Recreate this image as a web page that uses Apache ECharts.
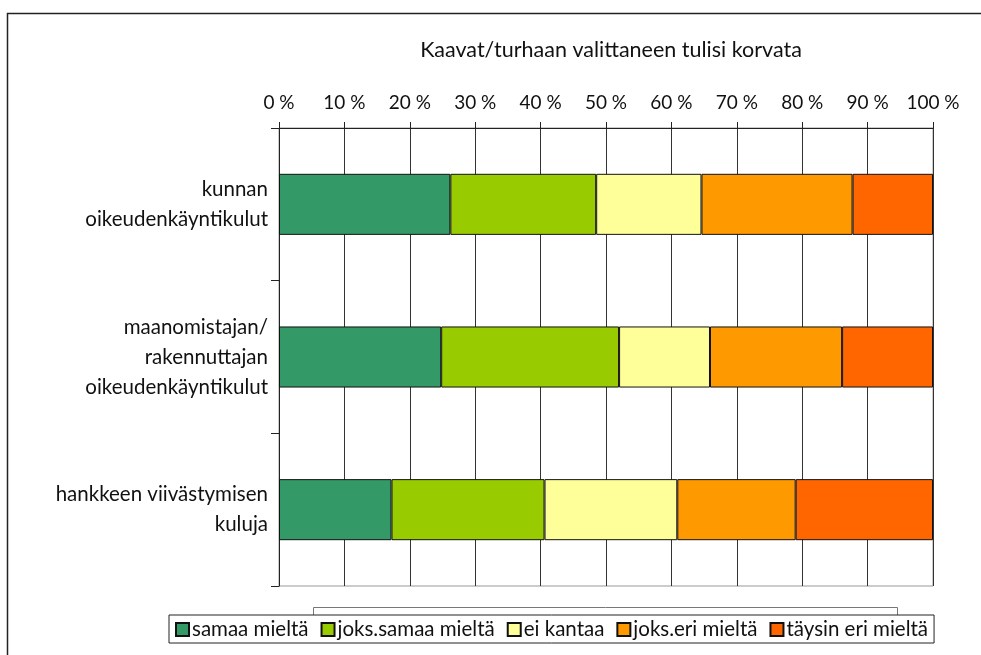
<!DOCTYPE html>
<html lang="fi">
<head>
  <meta charset="utf-8" />
  <title>Kaavat/turhaan valittaneen tulisi korvata</title>
  <script src="https://cdn.jsdelivr.net/npm/echarts@6.0.0/dist/echarts.min.js"></script>
  <style>
    html, body { margin: 0; padding: 0; background: #fff; }
  </style>
</head>
<body>
  <div id="main" style="width: 981px;height:655px;"></div>
  <script>
    var categories = [
      'kunnan\noikeudenkäyntikulut',
      'maanomistajan/\nrakennuttajan\noikeudenkäyntikulut',
      'hankkeen viivästymisen\nkuluja'
    ]
    var seriesNames = ['samaa mieltä', 'joks.samaa mieltä', 'ei kantaa', 'joks.eri mieltä', 'täysin eri mieltä']
    var samaa = [26.2, 24.8, 17.2]
    var joksSamaa = [22.3, 27.2, 23.4]
    var eiKantaa = [16.1, 13.9, 20.3]
    var joksEri = [23.1, 20.2, 18.1]
    var taysinEri = [12.3, 13.9, 21.0]
    var xTicks = [0, 10, 20, 30, 40, 50, 60, 70, 80, 90, 100]
    var colors = ['#339966', '#99cc00', '#ffff99', '#ff9900', '#ff6600']

    var font = 'Lato, "Open Sans", sans-serif'
    var chartDom = document.getElementById('main');
    var myChart = echarts.init(chartDom);

    var values = [samaa, joksSamaa, eiKantaa, joksEri, taysinEri]
    var series = []
    seriesNames.forEach(function (name, idx) {
      series.push({
        name: name,
        type: 'bar',
        stack: 'total',
        data: values[idx],
        barCategoryGap: '60%',
        itemStyle: {
          color: colors[idx],
          borderColor: '#111',
          borderWidth: 1
        }
      })
    })

    var option = {
      animation: false,
      textStyle: { fontFamily: font },
      title: {
        text: 'Kaavat/turhaan valittaneen tulisi korvata',
        left: 606,
        top: 34,
        textAlign: 'center',
        textStyle: { fontFamily: font, fontWeight: 'normal', fontSize: 21.5, color: '#111' }
      },
      graphic: [
        {
          type: 'rect',
          z: 0,
          shape: { x: 7.5, y: 13.5, width: 1000, height: 700 },
          style: { fill: null, stroke: '#222', lineWidth: 1.5 }
        },
        {
          type: 'rect',
          z: 1,
          shape: { x: 313.5, y: 607.5, width: 584, height: 30 },
          style: { fill: '#fff', stroke: '#777', lineWidth: 1 }
        }
      ],
      grid: {
        left: 279,
        right: 48,
        top: 128,
        bottom: 69,
        show: true,
        borderColor: '#999',
        borderWidth: 1
      },
      legend: {
        data: seriesNames,
        left: 169,
        top: 615,
        z: 5,
        backgroundColor: '#fff',
        borderColor: '#222',
        borderWidth: 1,
        padding: [4, 6, 3, 6],
        itemWidth: 13,
        itemHeight: 13,
        itemGap: 12,
        icon: 'rect',
        textStyle: { fontFamily: font, fontSize: 20.5, color: '#111', padding: [0, 0, 0, -2] }
      },
      xAxis: {
        type: 'value',
        position: 'top',
        min: xTicks[0],
        max: xTicks[xTicks.length - 1],
        interval: 10,
        axisLine: { show: true, lineStyle: { color: '#222', width: 1 } },
        axisTick: { show: true, length: 6, lineStyle: { color: '#222' } },
        axisLabel: {
          formatter: '{value} %',
          margin: 16,
          fontFamily: font,
          fontSize: 19,
          color: '#111'
        },
        splitLine: { show: true, lineStyle: { color: '#333', width: 1 } }
      },
      yAxis: {
        type: 'category',
        inverse: true,
        data: categories,
        axisLine: { show: true, lineStyle: { color: '#222', width: 1 } },
        axisTick: { show: true, length: 8, lineStyle: { color: '#222' } },
        axisLabel: {
          margin: 11,
          align: 'right',
          fontFamily: font,
          fontSize: 20.5,
          lineHeight: 30,
          color: '#111'
        },
        splitLine: { show: false }
      },
      series: series
    };
    myChart.setOption(option);
  </script>
</body>
</html>
